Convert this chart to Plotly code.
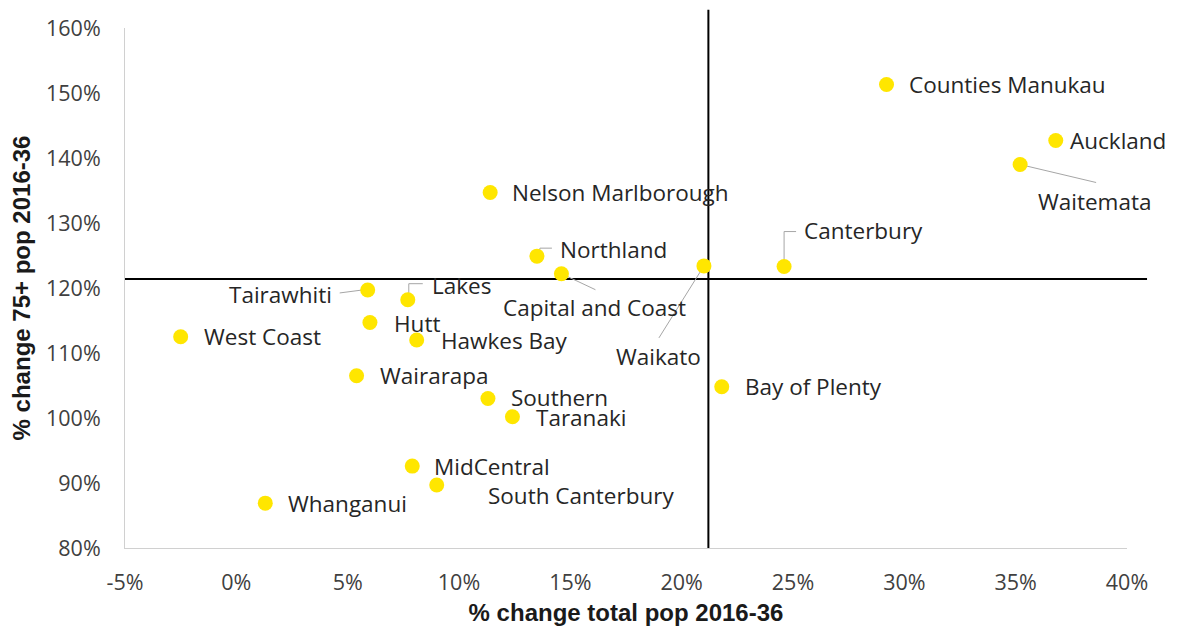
import plotly.graph_objects as go

# ---- data ----
regions = ["Counties Manukau", "Auckland", "Waitemata", "Nelson Marlborough", "Northland",
           "Capital and Coast", "Waikato", "Canterbury", "Tairawhiti", "Lakes", "Hutt",
           "West Coast", "Hawkes Bay", "Wairarapa", "Southern", "Taranaki", "Bay of Plenty",
           "MidCentral", "South Canterbury", "Whanganui"]
total_change = [29.2, 36.8, 35.2, 11.4, 13.5, 14.6, 21.0, 24.6, 5.9, 7.7, 6.0,
                -2.5, 8.1, 5.4, 11.3, 12.4, 21.8, 7.9, 9.0, 1.3]
old_change = [151.3, 142.7, 139.0, 134.7, 124.9, 122.2, 123.4, 123.3, 119.7, 118.2, 114.7,
              112.5, 112.0, 106.5, 103.0, 100.2, 104.8, 92.6, 89.7, 86.9]
ref_x = 21.2   # vertical reference line (% change total pop)
ref_y = 121.4  # horizontal reference line (% change 75+ pop)

x_ticks = [-5, 0, 5, 10, 15, 20, 25, 30, 35, 40]
y_ticks = [80, 90, 100, 110, 120, 130, 140, 150, 160]
x_title = "% change total pop 2016-36"
y_title = "% change 75+ pop 2016-36"

# ---- label placement (pixel offsets from the point: dx right, dy down) ----
label_pos = {
    "Counties Manukau": (20, 0, "left"),
    "Auckland": (12, 0, "left"),
    "Waitemata": (74, 37, "center"),
    "Nelson Marlborough": (20, 0, "left"),
    "Northland": (21, -7, "left"),
    "Capital and Coast": (33, 34, "center"),
    "Waikato": (-45, 91, "center"),
    "Canterbury": (18, -36, "left"),
    "Tairawhiti": (-34, 5, "right"),
    "Lakes": (22, -14, "left"),
    "Hutt": (22, 1, "left"),
    "West Coast": (21, 0, "left"),
    "Hawkes Bay": (22, 0, "left"),
    "Wairarapa": (21, 0, "left"),
    "Southern": (21, -1, "left"),
    "Taranaki": (22, 1, "left"),
    "Bay of Plenty": (21, 0, "left"),
    "MidCentral": (20, 0, "left"),
    "South Canterbury": (49, 11, "left"),
    "Whanganui": (21, 0, "left"),
}
# leader paths in pixels relative to the point (x right, y up)
leaders = {
    "Waitemata": "M 0,0 L 76,-18",
    "Northland": "M 2,0 L 3,8 L 15,8",
    "Capital and Coast": "M 0,0 L 34,-16",
    "Waikato": "M 0,0 L -45,-72",
    "Canterbury": "M 0,4 L 0,35 L 12,35",
    "Tairawhiti": "M -28,-3 L -5,0",
    "Lakes": "M 1,0 L 1,16 L 15,16",
}

FONT = "Open Sans"
TITLE_FONT = "Liberation Sans"
TEXT = "#262626"

x_range = [x_ticks[0], x_ticks[-1]]
y_range = [y_ticks[0], y_ticks[-1]]

fig = go.Figure()

shapes = []
for name, path in leaders.items():
    i = regions.index(name)
    shapes.append(dict(type="path", xref="x", yref="y",
                       xsizemode="pixel", ysizemode="pixel",
                       xanchor=total_change[i], yanchor=old_change[i],
                       path=path, line=dict(color="#A6A6A6", width=1), layer="below"))

# reference lines (extend slightly beyond the plot frame like the original)
px = (ref_x - x_range[0]) / (x_range[1] - x_range[0])
py = (ref_y - y_range[0]) / (y_range[1] - y_range[0])
shapes.append(dict(type="line", xref="paper", yref="paper", x0=px, x1=px, y0=0, y1=1.035,
                   line=dict(color="#000000", width=2), layer="below"))
shapes.append(dict(type="line", xref="paper", yref="paper", x0=0, x1=1.02, y0=py, y1=py,
                   line=dict(color="#000000", width=2), layer="below"))

fig.add_trace(go.Scatter(
    x=total_change, y=old_change, mode="markers", text=regions,
    marker=dict(color="#FFE600", size=15, line=dict(width=0)),
    hovertemplate="%{text}<br>Total: %{x}%<br>75+: %{y}%<extra></extra>",
    showlegend=False, cliponaxis=False))

annotations = []
for name, xv, yv in zip(regions, total_change, old_change):
    dx, dy, anchor = label_pos[name]
    annotations.append(dict(x=xv, y=yv, xref="x", yref="y", text=name, showarrow=False,
                            xanchor=anchor, yanchor="middle", xshift=dx, yshift=-dy,
                            font=dict(family=FONT, size=22.5, color=TEXT)))

fig.update_layout(
    width=1180, height=627,
    margin=dict(l=125, r=53, t=28, b=79, autoexpand=False),
    paper_bgcolor="white", plot_bgcolor="white",
    shapes=shapes, annotations=annotations,
    xaxis=dict(range=x_range, tickvals=x_ticks, ticktext=[f"{v}%" for v in x_ticks],
               showgrid=False, zeroline=False, showline=True, linecolor="#D0D0D0", linewidth=1,
               ticks="", ticklabelstandoff=15, automargin=False,
               tickfont=dict(family=FONT, size=21.5, color="#404040"),
               title=dict(text=f"<b>{x_title}</b>", standoff=9,
                          font=dict(family=TITLE_FONT, size=24, color="#1a1a1a"))),
    yaxis=dict(range=y_range, tickvals=y_ticks, ticktext=[f"{v}%" for v in y_ticks],
               showgrid=False, zeroline=False, showline=True, linecolor="#D0D0D0", linewidth=1,
               ticks="", ticklabelstandoff=19, automargin=False,
               tickfont=dict(family=FONT, size=21.5, color="#404040"),
               title=dict(text=f"<b>{y_title}</b>", standoff=8,
                          font=dict(family=TITLE_FONT, size=24, color="#1a1a1a"))),
)

fig.write_html("out.html", config={"displayModeBar": False},
               post_script="document.body.style.margin='0';document.body.style.overflow='hidden';")
